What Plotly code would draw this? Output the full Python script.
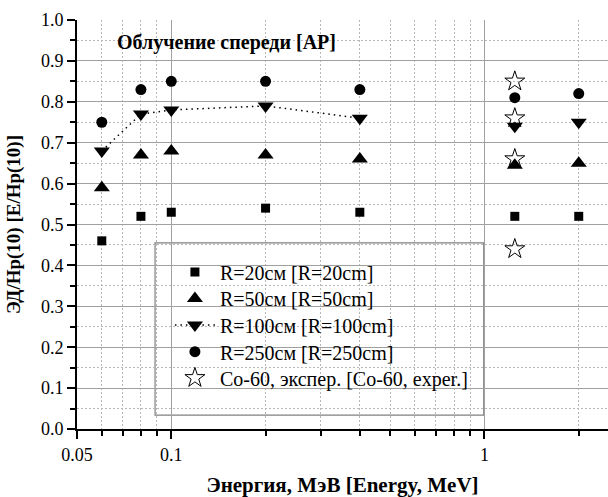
import math
import plotly.graph_objects as go

energy = [0.06, 0.08, 0.1, 0.2, 0.4, 1.25, 2.0]
r20 = [0.46, 0.52, 0.53, 0.54, 0.53, 0.52, 0.52]
r50 = [0.59, 0.67, 0.68, 0.67, 0.66, 0.645, 0.65]
r100 = [0.68, 0.77, 0.78, 0.79, 0.76, 0.74, 0.75]
r250 = [0.75, 0.83, 0.85, 0.85, 0.83, 0.81, 0.82]
co60_x = [1.25, 1.25, 1.25, 1.25]
co60_y = [0.85, 0.76, 0.66, 0.44]
n_line = 5  # R=100 dotted line joins the first five energies

names = ["R=20см [R=20cm]", "R=50см [R=50cm]", "R=100см [R=100cm]",
         "R=250см [R=250cm]", "Co-60, экспер. [Co-60, exper.]"]
x_ticks = [0.05, 0.1, 1]
x_ticktext = ["0.05", "0.1", "1"]
x_minor = [0.06, 0.07, 0.08, 0.09, 0.2, 0.3, 0.4, 0.5, 0.6, 0.7, 0.8, 0.9, 2.0]

font = "Liberation Serif, Times New Roman, serif"
legend_ids = ["legend", "legend2", "legend3", "legend4", "legend5"]
legend_y = [0.384, 0.319, 0.254, 0.189, 0.125]

fig = go.Figure()
fig.add_trace(go.Scatter(x=energy, y=r20, mode="markers", name=names[0], legend=legend_ids[0],
                         marker=dict(symbol="square", size=9, color="black")))
fig.add_trace(go.Scatter(x=energy, y=r50, mode="markers", name=names[1], legend=legend_ids[1],
                         marker=dict(symbol="triangle-up", size=14, color="black")))
fig.add_trace(go.Scatter(x=energy[:n_line], y=r100[:n_line], mode="lines+markers", name=names[2],
                         legend=legend_ids[2],
                         line=dict(color="black", width=1.5, dash="1.5px,4px"),
                         marker=dict(symbol="triangle-down", size=14, color="black")))
fig.add_trace(go.Scatter(x=energy[n_line:], y=r100[n_line:], mode="markers", showlegend=False,
                         marker=dict(symbol="triangle-down", size=14, color="black")))
fig.add_trace(go.Scatter(x=energy, y=r250, mode="markers", name=names[3], legend=legend_ids[3],
                         marker=dict(symbol="circle", size=11, color="black")))
fig.add_trace(go.Scatter(x=co60_x, y=co60_y, mode="markers", name=names[4], legend=legend_ids[4],
                         marker=dict(symbol="star-open", size=15, color="black", line=dict(width=1))))

fig.update_xaxes(type="log", range=[math.log10(0.05), math.log10(2.48)],
                 tickvals=x_ticks, ticktext=x_ticktext,
                 ticks="outside", ticklen=8, tickwidth=1.5, tickcolor="black",
                 showline=True, linecolor="black", linewidth=2,
                 showgrid=True, gridcolor="#a0a0a0", gridwidth=1,
                 minor=dict(tickvals=x_minor, ticks="outside", ticklen=5, tickcolor="black",
                            showgrid=True, gridcolor="#b8b8b8", griddash="2px,2px", gridwidth=1),
                 tickfont=dict(family=font, size=18, color="black"),
                 title=dict(text="<b>Энергия, МэВ [Energy, MeV]</b>",
                            font=dict(family=font, size=21, color="black"), standoff=15),
                 zeroline=False)
fig.update_yaxes(range=[0, 1], dtick=0.1, tickformat=".1f",
                 ticks="outside", ticklen=8, tickwidth=1.5, tickcolor="black",
                 showline=True, linecolor="black", linewidth=2,
                 showgrid=True, gridcolor="#a0a0a0", gridwidth=1,
                 minor=dict(dtick=0.05, ticks="outside", ticklen=5, tickcolor="black",
                            showgrid=True, gridcolor="#b8b8b8", griddash="2px,2px", gridwidth=1),
                 tickfont=dict(family=font, size=18, color="black"),
                 title=dict(text="<b>ЭД/Hp(10) [E/Hp(10)]</b>",
                            font=dict(family=font, size=19, color="black"), standoff=15),
                 zeroline=False)

fig.add_shape(type="rect", xref="paper", yref="paper", x0=0.147, x1=0.766, y0=0.034, y1=0.455,
              line=dict(color="#808080", width=1.2), fillcolor="white", layer="below")

fig.add_annotation(text="<b>Облучение спереди [AP]</b>", xref="paper", yref="paper",
                   x=0.282, y=0.946, xanchor="center", yanchor="middle", showarrow=False,
                   font=dict(family=font, size=20, color="black"))

legend_style = dict(x=0.175, xanchor="left", yanchor="middle",
                    bgcolor="rgba(0,0,0,0)", borderwidth=0, itemwidth=40,
                    font=dict(family=font, size=20, color="black"))
layout_legends = {lid: dict(y=ly, **legend_style) for lid, ly in zip(legend_ids, legend_y)}

fig.update_layout(width=608, height=497, margin=dict(l=77, r=0, t=20, b=68),
                  plot_bgcolor="rgba(0,0,0,0)", paper_bgcolor="white",
                  **layout_legends)
fig.write_html("out.html")
